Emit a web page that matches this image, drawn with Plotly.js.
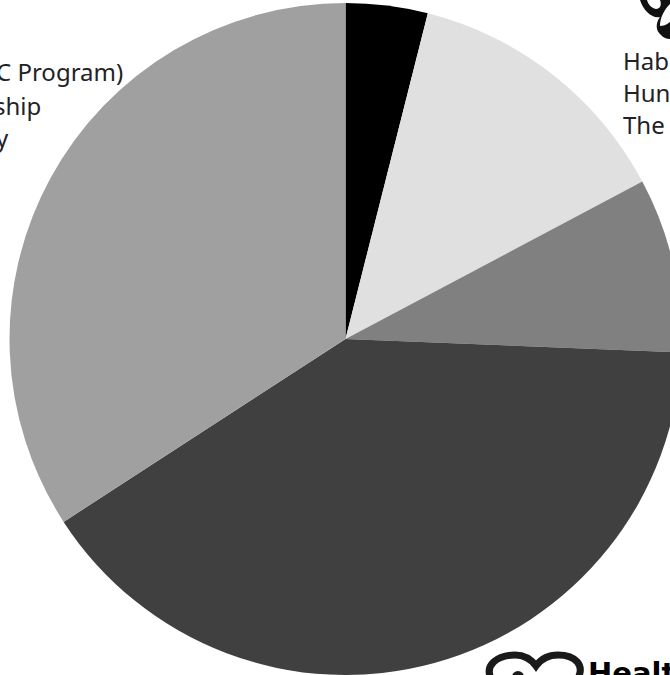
<!DOCTYPE html>
<html><head><meta charset="utf-8">
<script src="https://cdn.plot.ly/plotly-3.0.1.min.js"></script>
<style>html,body{margin:0;padding:0;background:#fff;overflow:hidden;width:670px;height:675px}#c{width:690px;height:678px}</style>
</head><body><div id="c"></div>
<script>
var sliceNames = ["Share A","Share B","Share C","Share D","Share E"];
var sliceValues = [3.94, 13.3, 8.4, 40.2, 34.16];
var sliceColors = ["#000000","#e0e0e0","#808080","#404040","#a0a0a0"];
var leftLabels = ["C Program)","ship","y"];
var rightLabels = ["Hab","Hun","The"];

var W = 690, H = 678;
function px(x){return x/W;}
function py(y){return 1-y/H;}
var font = {family:"'Noto Sans', 'Open Sans', sans-serif", size:24, color:"#222226"};
var anns = [];
[72,105,137].forEach(function(y,i){
  anns.push({text:leftLabels[i],xref:'paper',yref:'paper',x:px([125,43,11][i]),y:py(y),xanchor:'right',yanchor:'middle',showarrow:false,font:font});
});
[60,92,124].forEach(function(y,i){
  anns.push({text:rightLabels[i],xref:'paper',yref:'paper',x:px(621),y:py(y),xanchor:'left',yanchor:'middle',showarrow:false,font:font});
});
anns.push({text:"<b>Healt</b>",xref:'paper',yref:'paper',x:px(586),y:py(654),xanchor:'left',yanchor:'top',showarrow:false,
  font:{family:"'DejaVu Sans', sans-serif",size:29,color:"#000"}});

function pt(s){
  var toks = s.split(' '), out = [], isX = true;
  toks.forEach(function(t){
    if(/^[A-Z]$/.test(t)){out.push(t);isX=true;}
    else {out.push(isX?px(+t):py(+t)); isX=!isX;}
  });
  return out.join(' ');
}
var shapes = [
  {type:'path',xref:'paper',yref:'paper',fillcolor:'#111',line:{color:'#111',width:0},
   path:pt("M 640 0 C 643 10 652 19 660 17 C 655 24 656 31 661 35 C 664 39 670 39 670 39 L 670 22 C 666 25 663 26 660 26 C 660 18 664 10 670 4 L 670 0 L 660 0 C 662 5 660 9 656 9 C 651 8 648 4 647 0 Z")},
  {type:'path',xref:'paper',yref:'paper',fillcolor:'rgba(0,0,0,0)',line:{color:'#1a1a1a',width:7},
   path:pt("M 492 680 C 483 665 498 655 515 655 C 525 655 531 659 536 666 C 541 659 549 655 558 655 C 575 655 586 665 577 680")},
  {type:'circle',xref:'paper',yref:'paper',fillcolor:'#1a1a1a',line:{width:0},x0:px(512),x1:px(524),y0:py(671),y1:py(683)}
];

Plotly.newPlot('c',[{
  type:'pie',labels:sliceNames,values:sliceValues,sort:false,direction:'clockwise',rotation:0,
  marker:{colors:sliceColors,line:{width:0}},textinfo:'none',hoverinfo:'skip',
  domain:{x:[9.5/W,681.5/W],y:[3/H,675/H]}
}],{
  width:W,height:H,margin:{l:0,r:0,t:0,b:0},showlegend:false,paper_bgcolor:'#fff',
  annotations:anns,shapes:shapes
},{displayModeBar:false,staticPlot:true});
</script></body></html>
